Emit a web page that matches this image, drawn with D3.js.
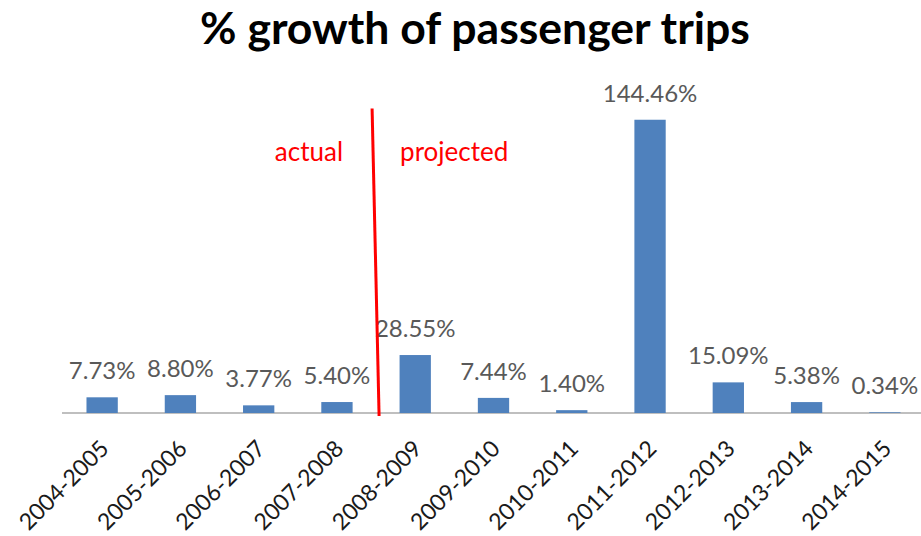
<!DOCTYPE html>
<html>
<head>
<meta charset="utf-8">
<script src="https://cdn.jsdelivr.net/npm/d3@7"></script>
<style>
  html, body { margin: 0; padding: 0; background: #fff; }
  svg { display: block; }
</style>
</head>
<body>
<svg id="chart" width="921" height="536"></svg>
<script>
const categories = ["2004-2005","2005-2006","2006-2007","2007-2008","2008-2009","2009-2010","2010-2011","2011-2012","2012-2013","2013-2014","2014-2015"];
const growth = [7.73, 8.80, 3.77, 5.40, 28.55, 7.44, 1.40, 144.46, 15.09, 5.38, 0.34];
const valueLabels = ["7.73%","8.80%","3.77%","5.40%","28.55%","7.44%","1.40%","144.46%","15.09%","5.38%","0.34%"];
const title = "% growth of passenger trips";
const annotations = ["actual", "projected"];
const splitAfter = "2007-2008";
const splitBefore = "2008-2009";

const svg = d3.select("#chart");
const W = 921, H = 536;
const FONT = "Lato, 'Open Sans', sans-serif";

const x = d3.scaleBand().domain(categories).range([63, 924]).paddingInner(0.6).paddingOuter(0.3);
const y = d3.scaleLinear().domain([0, 150]).range([413, 108.5]);

// title
const t = svg.append("text")
  .attr("x", 475).attr("y", 44)
  .attr("text-anchor", "middle")
  .attr("font-family", FONT)
  .attr("font-weight", "bold")
  .attr("font-size", 36)
  .attr("fill", "#000")
  .text(title);
const tw = t.node().getComputedTextLength();
t.attr("font-size", 36 * 550 / tw);

// axis line
svg.append("line")
  .attr("x1", 62).attr("x2", W)
  .attr("y1", y(0)).attr("y2", y(0))
  .attr("stroke", "#bfbfbf").attr("stroke-width", 2);

// bars
svg.selectAll("rect.bar").data(categories).join("rect")
  .attr("class", "bar")
  .attr("x", d => x(d))
  .attr("width", x.bandwidth())
  .attr("y", (d, i) => y(growth[i]))
  .attr("height", (d, i) => y(0) - y(growth[i]))
  .attr("fill", "#4f81bd");

// value labels
svg.selectAll("text.val").data(categories).join("text")
  .attr("class", "val")
  .attr("x", d => x(d) + x.bandwidth() / 2)
  .attr("y", (d, i) => y(growth[i]) - 18)
  .attr("text-anchor", "middle")
  .attr("font-family", FONT)
  .attr("font-size", 24)
  .attr("fill", "#595959")
  .text((d, i) => valueLabels[i]);

// category tick labels
svg.selectAll("text.cat").data(categories).join("text")
  .attr("class", "cat")
  .attr("transform", d => `translate(${x(d) + x.bandwidth() / 2 + 8},${y(0) + 37}) rotate(-45)`)
  .attr("text-anchor", "end")
  .attr("font-family", FONT)
  .attr("font-size", 23)
  .attr("fill", "#1a1a1a")
  .text(d => d);

// actual / projected divider
const mid = (x(splitAfter) + x.bandwidth() + x(splitBefore)) / 2;
svg.append("line")
  .attr("x1", mid - 4).attr("y1", y(150))
  .attr("x2", mid + 3).attr("y2", y(0) + 3)
  .attr("stroke", "#ff0000").attr("stroke-width", 3);

svg.append("text")
  .attr("x", mid - 33).attr("y", 161)
  .attr("text-anchor", "end")
  .attr("font-family", FONT).attr("font-size", 26)
  .attr("fill", "#ff0000")
  .text(annotations[0]);
svg.append("text")
  .attr("x", mid + 24).attr("y", 161)
  .attr("text-anchor", "start")
  .attr("font-family", FONT).attr("font-size", 26)
  .attr("fill", "#ff0000")
  .text(annotations[1]);
</script>
</body>
</html>
